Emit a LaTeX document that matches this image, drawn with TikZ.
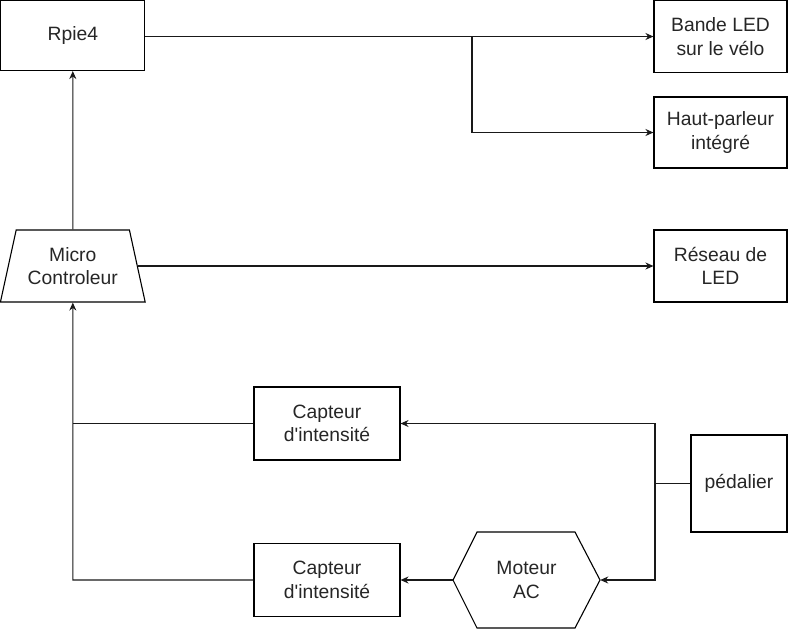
\documentclass[tikz,border=0pt]{standalone}
\usepackage{fontspec}
\setmainfont{Liberation Sans}[Ligatures=TeXOff]
\usetikzlibrary{arrows.meta,shapes.geometric}
\begin{document}
\begin{tikzpicture}[x=1pt,y=-1pt,
  every node/.style={font=\fontsize{19.3}{23.5}\selectfont, text=black!85, align=center, inner sep=0pt},
  box/.style={draw, line width=1.1pt, rectangle},
  lnk/.style={line width=1.1pt, draw=black!90},
  arr/.style={lnk, -{Stealth[length=8pt,width=7pt]}}]
\useasboundingbox (0,0) rectangle (800,630);
\fill[white] (0,0) rectangle (800,630);
% nodes
\node[box, minimum width=144, minimum height=70] (rpi) at (72.8,35.5) {Rpie4};
\node[box, minimum width=133, minimum height=72] (bande) at (720.5,36.5) {Bande LED\\sur le vélo};
\node[box, minimum width=133, minimum height=71] (haut) at (720.5,132.5) {Haut-parleur\\intégré};
\node[box, minimum width=133, minimum height=72] (res) at (720.5,266) {Réseau de\\LED};
\node[draw, line width=1.1pt, trapezium, trapezium stretches=true, minimum width=145, minimum height=72,
  trapezium left angle=71.6, trapezium right angle=71.6] (mc) at (72.8,266) {Micro\\Controleur};
\node[box, minimum width=146, minimum height=73] (cap1) at (327,423.5) {Capteur\\d'intensité};
\node[box, minimum width=146, minimum height=73] (cap2) at (327,580) {Capteur\\d'intensité};
\node[box, minimum width=96, minimum height=97] (ped) at (739,483.5) {pédalier};
\node[minimum width=147, minimum height=96] (mot) at (526.5,580) {Moteur\\AC};
\draw[line width=1.1pt] (453,580) -- (477,532) -- (575,532) -- (600,580) -- (575,628) -- (477,628) -- cycle;
% coordinates
\coordinate (j1) at (472,36.5);
\coordinate (j1b) at (472,132.5);
\coordinate (pj) at (655,483.5);
\coordinate (pj1) at (655,423.5);
\coordinate (pj2) at (655,580);
\coordinate (lj1) at (72.8,423.5);
\coordinate (lj2) at (72.8,580);
% connectors
\draw[arr] (rpi.east |- bande.west) -- (bande.west);
\draw[arr] (j1) -- (j1b) -- (haut.west);
\draw[arr] (mc.north) -- (rpi.south);
\draw[arr] (mc.east) -- (mc.east -| res.west);
\draw[lnk] (ped.west) -- (pj);
\draw[arr] (pj) -- (pj1) -- (cap1.east);
\draw[arr] (pj) -- (pj2) -- (mot.east);
\draw[arr] (mot.west) -- (cap2.east);
\draw[arr] (cap2.west) -- (lj2) -- (mc.south);
\draw[lnk] (cap1.west) -- (lj1);
\end{tikzpicture}
\end{document}
